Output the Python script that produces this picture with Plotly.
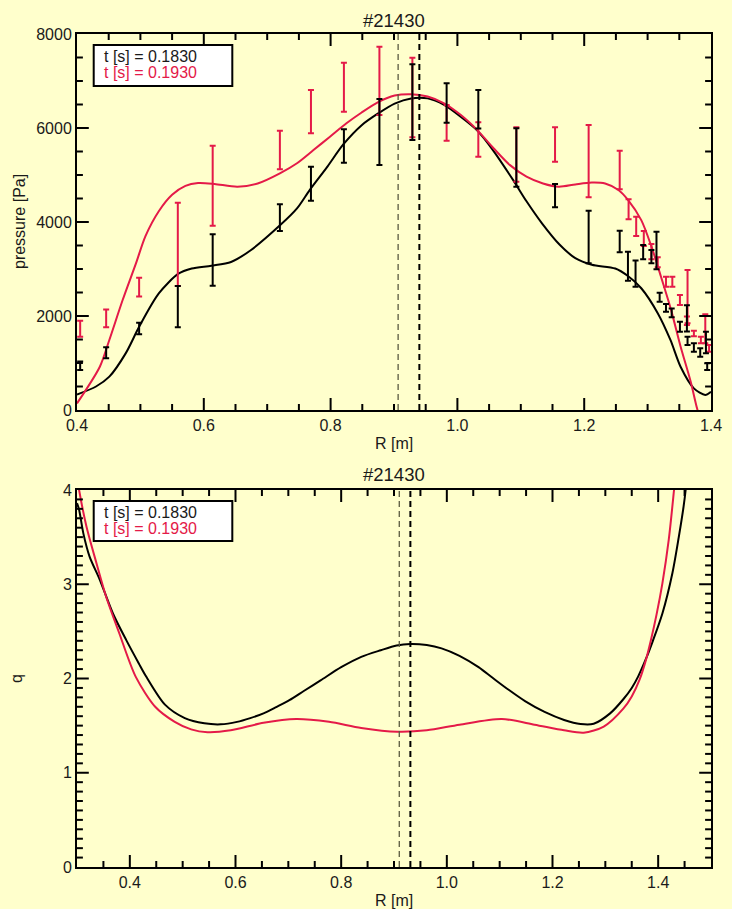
import plotly.graph_objects as go

# ---------------- data ----------------
SHOT = "#21430"
T1_LABEL = "t [s] = 0.1830"
T2_LABEL = "t [s] = 0.1930"

# pressure profile fits [Pa] vs major radius R [m]
r_p1 = [0.400, 0.430, 0.451, 0.477, 0.498, 0.529, 0.560, 0.581, 0.612, 0.643, 0.674,
        0.721, 0.747, 0.767, 0.795, 0.820, 0.849, 0.875, 0.901, 0.927, 0.953, 0.979,
        1.005, 1.031, 1.056, 1.088, 1.109, 1.134, 1.161, 1.186, 1.212, 1.249, 1.269,
        1.290, 1.316, 1.336, 1.352, 1.373, 1.391, 1.400]
p_p1 = [330, 500, 710, 1210, 1770, 2480, 2900, 3010, 3070, 3150, 3400,
        3940, 4290, 4680, 5180, 5650, 6060, 6310, 6520, 6630, 6630, 6490,
        6240, 5950, 5530, 4890, 4440, 3960, 3520, 3230, 3090, 3010, 2850,
        2590, 2060, 1490, 920, 460, 320, 390]

r_p2 = [0.400, 0.436, 0.451, 0.472, 0.493, 0.508, 0.529, 0.550, 0.571, 0.591, 0.617,
        0.653, 0.685, 0.720, 0.747, 0.773, 0.799, 0.825, 0.849, 0.875, 0.901, 0.927,
        0.953, 0.979, 1.005, 1.031, 1.057, 1.083, 1.109, 1.135, 1.160, 1.186, 1.212,
        1.233, 1.254, 1.269, 1.290, 1.306, 1.321, 1.337, 1.352, 1.368, 1.378, 1.390]
p_p2 = [140, 920, 1490, 2340, 3120, 3700, 4230, 4580, 4770, 4830, 4810,
        4750, 4820, 5035, 5250, 5530, 5815, 6100, 6330, 6550, 6690, 6720,
        6670, 6525, 6280, 5960, 5570, 5210, 4965, 4820, 4750, 4800, 4840,
        4820, 4680, 4470, 4040, 3480, 2840, 2130, 1350, 600, 35, -500]

# measured pressure with uncertainties
r_m1 = [0.405, 0.446, 0.498, 0.559, 0.614, 0.720, 0.769, 0.821, 0.877, 0.929, 0.983,
        1.033, 1.093, 1.154, 1.207, 1.256, 1.269, 1.281, 1.293, 1.306, 1.314, 1.319,
        1.329, 1.338, 1.351, 1.362, 1.363, 1.373, 1.383, 1.392, 1.394]
p_m1 = [940, 1217, 1734, 2199, 3191, 4092, 4816, 5617, 5915, 6550, 6532,
        6400, 5372, 4560, 3681, 3585, 3060, 2900, 3360, 3262, 3393, 2400,
        2173, 2067, 1773, 1950, 1470, 1330, 1223, 1436, 922]
e_m1 = [90, 117, 124, 440, 547, 284, 362, 355, 702, 805, 418,
        408, 621, 248, 560, 230, 309, 280, 150, 140, 400, 95,
        82, 95, 106, 280, 88, 89, 89, 230, 71]

r_m2 = [0.405, 0.446, 0.498, 0.559, 0.614, 0.720, 0.769, 0.821, 0.877, 0.929, 0.983,
        1.033, 1.093, 1.154, 1.207, 1.256, 1.270, 1.282, 1.294, 1.306, 1.316, 1.329,
        1.339, 1.351, 1.363, 1.362, 1.373, 1.384, 1.391, 1.397]
p_m2 = [1730, 1950, 2613, 3525, 4773, 5532, 6348, 6869, 7003, 6649, 6110,
        5755, 5436, 5649, 5295, 5106, 4270, 3908, 3650, 3370, 3142, 2730,
        2730, 2340, 2411, 1900, 1627, 1490, 1727, 1312]
e_m2 = [170, 190, 200, 887, 851, 411, 461, 521, 727, 848, 380,
        365, 578, 365, 770, 411, 213, 205, 160, 163, 106, 106,
        106, 106, 567, 90, 60, 70, 308, 72]

# safety factor profiles
r_q1 = [0.300, 0.304, 0.312, 0.324, 0.343, 0.368, 0.393, 0.417, 0.430, 0.467, 0.504,
        0.541, 0.572, 0.603, 0.628, 0.653, 0.678, 0.702, 0.730, 0.761, 0.800, 0.838,
        0.875, 0.905, 0.931, 0.962, 0.990, 1.024, 1.060, 1.086, 1.117, 1.148, 1.185,
        1.222, 1.253, 1.278, 1.309, 1.334, 1.350, 1.362, 1.377, 1.390, 1.408, 1.427,
        1.439, 1.448, 1.452, 1.458]
q_q1 = [3.86, 3.79, 3.54, 3.29, 3.05, 2.69, 2.41, 2.16, 2.03, 1.72, 1.58,
        1.525, 1.514, 1.54, 1.58, 1.63, 1.70, 1.77, 1.87, 1.98, 2.12, 2.23,
        2.30, 2.35, 2.366, 2.355, 2.32, 2.24, 2.12, 2.01, 1.88, 1.76, 1.645,
        1.56, 1.517, 1.52, 1.63, 1.78, 1.90, 2.02, 2.21, 2.40, 2.69, 3.12,
        3.50, 3.82, 4.00, 4.40]

r_q2 = [0.300, 0.304, 0.318, 0.337, 0.355, 0.380, 0.411, 0.448, 0.485, 0.516, 0.547,
        0.591, 0.653, 0.715, 0.777, 0.838, 0.906, 0.962, 1.024, 1.104, 1.166, 1.222,
        1.259, 1.297, 1.334, 1.350, 1.365, 1.377, 1.386, 1.397, 1.408, 1.420, 1.430,
        1.436]
q_q2 = [4.15, 4.00, 3.61, 3.22, 2.87, 2.48, 2.02, 1.70, 1.54, 1.46, 1.43,
        1.45, 1.53, 1.57, 1.54, 1.475, 1.435, 1.45, 1.51, 1.57, 1.51, 1.45,
        1.425, 1.49, 1.68, 1.81, 1.99, 2.20, 2.40, 2.68, 3.01, 3.47, 4.00,
        4.35]

# magnetic axis positions (dashed markers)
axis_top = [0.9065, 0.940]
axis_bot = [0.910, 0.931]

# axis ranges
R_TOP = [0.4, 1.4]
P_TOP = [0, 8000]
R_BOT = [0.3, 1.5]
Q_BOT = [0, 4]

# ---------------- style ----------------
BG = "#FFFFCC"
RED = "rgb(228,26,72)"
BLK = "black"
FONT = "Liberation Sans, Arial, sans-serif"

W, H = 732, 909
ML, MR, MT, MB = 77, 10, 34, 42
PLOT_W = W - ML - MR
PLOT_H = H - MT - MB
MAJOR_LEN, MINOR_LEN = 12, 6


def fx(px):
    return (px - ML) / PLOT_W


def fy(py):
    return (H - MB - py) / PLOT_H


top_dom = [fy(410), 1.0]
bot_dom = [0.0, fy(490)]

fig = go.Figure()

line_kw = dict(mode="lines", line_shape="spline", showlegend=False, hoverinfo="skip")
fig.add_trace(go.Scatter(x=r_p1, y=p_p1, line=dict(color=BLK, width=2, smoothing=0.8),
                         xaxis="x", yaxis="y", **line_kw))
fig.add_trace(go.Scatter(x=r_p2, y=p_p2, line=dict(color=RED, width=2, smoothing=0.8),
                         xaxis="x", yaxis="y", **line_kw))


def errbars(r, p, e, color):
    return go.Scatter(x=r, y=p, mode="markers",
                      marker=dict(size=1, color=color, opacity=0),
                      error_y=dict(type="data", array=e, visible=True, color=color,
                                   thickness=2, width=3),
                      xaxis="x", yaxis="y", showlegend=False, hoverinfo="skip")


fig.add_trace(errbars(r_m2, p_m2, e_m2, RED))
fig.add_trace(errbars(r_m1, p_m1, e_m1, BLK))

fig.add_trace(go.Scatter(x=r_q1, y=q_q1, line=dict(color=BLK, width=2, smoothing=0.8),
                         xaxis="x2", yaxis="y2", **line_kw))
fig.add_trace(go.Scatter(x=r_q2, y=q_q2, line=dict(color=RED, width=2, smoothing=0.8),
                         xaxis="x2", yaxis="y2", **line_kw))


def box_ticks(xr, yr, xstep, xmaj, ystep, ymaj, dom, xa, ya):
    """IDL-style inward tick marks on all four sides of a panel, as one line trace."""
    ph = PLOT_H * (dom[1] - dom[0])
    dxp = (xr[1] - xr[0]) / PLOT_W      # data units per pixel along x
    dyp = (yr[1] - yr[0]) / ph          # data units per pixel along y
    xs, ys = [], []
    nx = int(round((xr[1] - xr[0]) / xstep))
    for k in range(1, nx):
        v = xr[0] + k * xstep
        L = MAJOR_LEN if int(round(v / xstep)) % xmaj == 0 else MINOR_LEN
        xs += [v, v, None, v, v, None]
        ys += [yr[0], yr[0] + L * dyp, None, yr[1], yr[1] - L * dyp, None]
    ny = int(round((yr[1] - yr[0]) / ystep))
    for k in range(1, ny):
        v = yr[0] + k * ystep
        L = MAJOR_LEN if int(round(v / ystep)) % ymaj == 0 else MINOR_LEN
        xs += [xr[0], xr[0] + L * dxp, None, xr[1], xr[1] - L * dxp, None]
        ys += [v, v, None, v, v, None]
    return go.Scatter(x=xs, y=ys, mode="lines", line=dict(color="black", width=2),
                      connectgaps=False, xaxis=xa, yaxis=ya,
                      showlegend=False, hoverinfo="skip")


fig.add_trace(box_ticks(R_TOP, P_TOP, 0.05, 4, 500, 4, top_dom, "x", "y"))
fig.add_trace(box_ticks(R_BOT, Q_BOT, 0.05, 4, 0.1, 10, bot_dom, "x2", "y2"))

axis_style = dict(
    showline=True, linecolor="black", linewidth=2, mirror=True,
    ticks="", showgrid=False, zeroline=False,
    tickfont=dict(family=FONT, size=16, color="#1a1a1a"),
)

fig.update_layout(
    width=W, height=H,
    margin=dict(l=ML, r=MR, t=MT, b=MB),
    paper_bgcolor=BG, plot_bgcolor=BG,
    showlegend=False,
    xaxis=dict(axis_style, domain=[0, 1], anchor="y", range=R_TOP,
               tick0=0.4, dtick=0.2, tickformat=".1f"),
    yaxis=dict(axis_style, domain=top_dom, anchor="x", range=P_TOP,
               tick0=0, dtick=2000),
    xaxis2=dict(axis_style, domain=[0, 1], anchor="y2", range=R_BOT,
                tick0=0.4, dtick=0.2, tickformat=".1f"),
    yaxis2=dict(axis_style, domain=bot_dom, anchor="x2", range=Q_BOT,
                tick0=0, dtick=1),
)

shapes = []
# magnetic axis markers
for xr, yr, xs in (("x", "y domain", axis_top), ("x2", "y2 domain", axis_bot)):
    shapes.append(dict(type="line", xref=xr, yref=yr, x0=xs[0], x1=xs[0], y0=0, y1=1,
                       line=dict(color="#5a5a40", width=1.3, dash="6px,4px")))
    shapes.append(dict(type="line", xref=xr, yref=yr, x0=xs[1], x1=xs[1], y0=0, y1=1,
                       line=dict(color="black", width=2, dash="6px,4px")))

# legend boxes
for top, bot in ((45, 86), (501, 541)):
    shapes.append(dict(type="rect", xref="paper", yref="paper",
                       x0=fx(94), x1=fx(235), y0=fy(bot), y1=fy(top),
                       fillcolor="white", line=dict(color="black", width=2)))
fig.update_layout(shapes=shapes)

ann = []


def txt(text, x, y, size, color="#1a1a1a", angle=0, xanchor="center"):
    ann.append(dict(text=text, x=fx(x), y=fy(y), xref="paper", yref="paper",
                    showarrow=False, xanchor=xanchor, yanchor="middle",
                    textangle=angle, font=dict(family=FONT, size=size, color=color)))


txt(SHOT, 399, 20, 18.5)
txt(SHOT, 399, 474, 18.5)
txt("R [m]", 400, 443, 16)
txt("R [m]", 400, 900, 16)
txt("pressure [Pa]", 18, 222, 16, angle=-90)
txt("q", 15, 679, 16, angle=-90)

for top in (45, 501):
    txt(T1_LABEL, 102, top + 11.5, 16, color="#1a1a1a", xanchor="left")
    txt(T2_LABEL, 102, top + 27, 16, color=RED, xanchor="left")

fig.update_layout(annotations=ann)

fig.write_html("out.html")
